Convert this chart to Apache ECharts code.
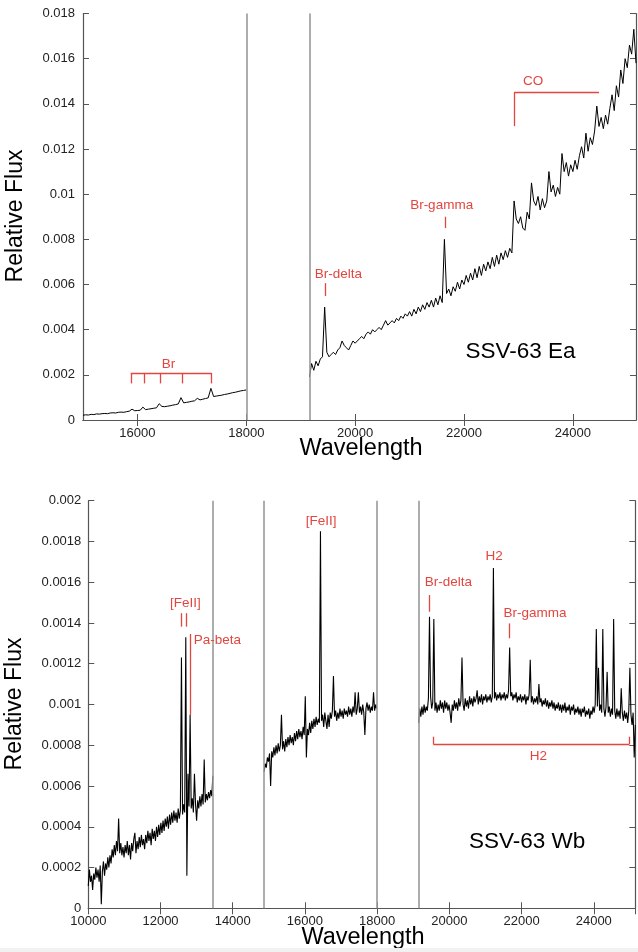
<!DOCTYPE html>
<html>
<head>
<meta charset="utf-8">
<script src="https://cdn.jsdelivr.net/npm/echarts@6/dist/echarts.min.js"></script>
<style>
  html, body { margin: 0; padding: 0; background: #fff; }
  #chart { width: 638px; height: 952px; }
</style>
</head>
<body>
<div id="chart"></div>
<script>
const FONT = '"Liberation Sans", Arial, Helvetica, sans-serif';
const RED = '#e3453f';

// --- top panel: SSV-63 Ea ---
const topXTicks = [16000, 18000, 20000, 22000, 24000];
// H band piece, 15000..18000 every 50 A
const eaStartA = 15000, eaStepA = 50;
const eaFluxA = [
  .00021, .00023, .00022, .00025, .00024, .00027, .00026, .00028, .00029, .00028,
  .00031, .00032, .00031, .00034, .00035, .00034, .00037, .00039, .00048, .00041,
  .00042, .00043, .00057, .00046, .00048, .00050, .00052, .00054, .00072, .00060,
  .00059, .00061, .00063, .00066, .00068, .00071, .00099, .00076, .00078, .00080,
  .00083, .00085, .00096, .00089, .00092, .00095, .00098, .00140, .00104, .00106,
  .00108, .00110, .00113, .00115, .00118, .00121, .00123, .00126, .00129, .00131,
  .00133
];
// K band piece, 19160..25160 every 40 A
const eaStartB = 19160, eaStepB = 40;
const eaFluxB = [
  .0019, .0025, .0022, .0026, .0024, .0027, .0028, .0050, .0030, .0028,
  .0029, .0030, .0029, .0031, .0032, .0035, .0033, .0032, .0031, .0033,
  .0035, .0034, .0035, .0036, .0037, .0036, .0038, .0039, .0038, .0040,
  .0039, .0040, .0041, .0040, .0042, .0044, .0042, .0043, .0044, .0043,
  .0045, .0044, .0046, .0045, .0047, .0046, .0048, .0046, .0049, .0047,
  .0050, .0048, .0051, .0049, .0052, .0050, .0053, .0050, .0054, .0051,
  .0055, .0052, .0080, .0056, .0058, .0055, .0059, .0057, .0061, .0058,
  .0062, .0060, .0064, .0061, .0065, .0062, .0067, .0063, .0068, .0064,
  .0069, .0066, .0070, .0067, .0072, .0068, .0073, .0069, .0074, .0071,
  .0075, .0072, .0076, .0074, .0097, .0089, .0087, .0090, .0085, .0084,
  .0092, .0089, .0105, .0097, .0095, .0099, .0093, .0098, .0094, .0097,
  .0110, .0101, .0104, .0099, .0103, .0100, .0118, .0110, .0114, .0108,
  .0113, .0110, .0115, .0111, .0117, .0121, .0116, .0127, .0119, .0125,
  .0122, .0128, .0139, .0130, .0134, .0129, .0135, .0131, .0138, .0144,
  .0137, .0148, .0143, .0155, .0149, .0160, .0156, .0166, .0162, .0173,
  .0158
];

// --- bottom panel: SSV-63 Wb ---
const wbStep = 30;
const wbStart1 = 10000;
const wbFlux1 = [
  .00011, .00019, .00013, .00016, .00009, .00017, .00014, .00020, .00015, .00019,
  .00013, .00021, .00002, .00018, .00023, .00016, .00022, .00019, .00025, .00020,
  .00026, .00022, .00029, .00025, .00031, .00026, .00033, .00028, .00044, .00027,
  .00032, .00026, .00030, .00025, .00031, .00027, .00033, .00026, .00031, .00024,
  .00032, .00028, .00034, .00037, .00027, .00033, .00029, .00035, .00030, .00036,
  .00031, .00034, .00029, .00036, .00032, .00038, .00033, .00037, .00031, .00039,
  .00034, .00038, .00033, .00040, .00035, .00041, .00036, .00042, .00037, .00043,
  .00038, .00044, .00040, .00045, .00039, .00046, .00041, .00047, .00042, .00048,
  .00043, .00047, .00042, .00049, .00044, .00048, .00123, .00046, .00051, .00047,
  .00133, .00016, .00066, .00050, .00095, .00049, .00054, .00047, .00066, .00051,
  .00043, .00053, .00049, .00055, .00050, .00056, .00051, .00073, .00052, .00056,
  .00053, .00057, .00054, .00058, .00055, .00065
];
const wbStart2 = 14870;
const wbFlux2 = [
  .00067, .00071, .00069, .00074, .00072, .00076, .00060, .00077, .00074, .00079,
  .00075, .00080, .00076, .00081, .00077, .00080, .00095, .00078, .00082, .00077,
  .00083, .00079, .00084, .00080, .00085, .00081, .00084, .00080, .00086, .00082,
  .00087, .00083, .00088, .00084, .00087, .00083, .00089, .00085, .00104, .00074,
  .00088, .00085, .00091, .00086, .00092, .00088, .00093, .00089, .00094, .00090,
  .00093, .00091, .00185, .00092, .00095, .00089, .00096, .00092, .00088, .00095,
  .00089, .00096, .00093, .00097, .00114, .00094, .00097, .00092, .00096, .00093,
  .00098, .00094, .00097, .00093, .00098, .00095, .00097, .00094, .00099, .00095,
  .00098, .00094, .00099, .00096, .00106, .00095, .00098, .00106, .00096, .00099,
  .00095, .00100, .00096, .00085, .00098, .00101, .00097, .00100, .00096, .00099,
  .00097, .00106, .00097, .00100, .00098
];
const wbStart3 = 19150;
const wbFlux3 = [
  .00091, .00098, .00094, .00099, .00095, .00100, .00096, .00099, .00097, .00103,
  .00143, .00104, .00098, .00101, .00142, .00097, .00101, .00096, .00100, .00097,
  .00102, .00098, .00101, .00096, .00102, .00098, .00101, .00097, .00100, .00096,
  .00091, .00100, .00097, .00102, .00098, .00101, .00097, .00103, .00099, .00102,
  .00123, .00100, .00097, .00103, .00099, .00102, .00098, .00104, .00100, .00103,
  .00099, .00104, .00101, .00103, .00107, .00100, .00104, .00101, .00105, .00100,
  .00104, .00102, .00105, .00101, .00104, .00102, .00105, .00101, .00104, .00167,
  .00103, .00106, .00102, .00105, .00103, .00106, .00102, .00105, .00103, .00106,
  .00102, .00105, .00103, .00107, .00128, .00104, .00106, .00102, .00105, .00103,
  .00106, .00101, .00104, .00102, .00105, .00101, .00104, .00102, .00105, .00100,
  .00104, .00102, .00105, .00122, .00101, .00104, .00100, .00103, .00101, .00104,
  .00100, .00110, .00101, .00103, .00099, .00102, .00100, .00103, .00099, .00102,
  .00098, .00101, .00099, .00102, .00098, .00101, .00097, .00100, .00098, .00101,
  .00097, .00100, .00096, .00100, .00097, .00101, .00096, .00099, .00097, .00100,
  .00095, .00099, .00097, .00100, .00095, .00098, .00096, .00099, .00095, .00098,
  .00094, .00098, .00096, .00099, .00094, .00097, .00095, .00098, .00093, .00097,
  .00095, .00099, .00096, .00100, .00137, .00099, .00118, .00097, .00100, .00096,
  .00137, .00098, .00094, .00099, .00116, .00096, .00099, .00094, .00098, .00095,
  .00142, .00097, .00093, .00098, .00094, .00097, .00093, .00108, .00096, .00092,
  .00097, .00093, .00096, .00091, .00097, .00118, .00095, .00090, .00096, .00074,
  .00090
];

function pairs(start, step, flux) {
  return flux.map((v, i) => [start + i * step, v]);
}

const chart = echarts.init(document.getElementById('chart'));

const axisLine = { show: true, lineStyle: { color: '#555', width: 1.2 } };
const tickIn = { show: true, inside: true, length: 6, lineStyle: { color: '#555', width: 1 } };
const lbl = { color: '#222', fontSize: 13, fontFamily: FONT };
const plainNum = v => String(v);

function redSeg(a, b) {
  return [{ coord: a, lineStyle: { color: RED, width: 1.3, type: 'solid' } }, { coord: b }];
}
function grayLine(x) {
  return { xAxis: x, lineStyle: { color: '#999', width: 1.6, type: 'solid' } };
}
function note(text, x, y, extra) {
  return { name: text, coord: [x, y], label: Object.assign({}, extra || {}) };
}

const spec = { type: 'line', showSymbol: false, symbol: 'none', silent: true,
  lineStyle: { color: '#000', width: 1 }, itemStyle: { color: '#000' } };
const specB = Object.assign({}, spec, { lineStyle: { color: '#000', width: 1.1 } });

const markPointBase = {
  symbol: 'circle', symbolSize: 0, silent: true,
  label: { show: true, position: 'inside', formatter: '{b}', color: RED, fontSize: 13.5, fontFamily: FONT }
};
const markLineBase = { symbol: ['none', 'none'], silent: true, label: { show: false } };

const option = {
  animation: false,
  backgroundColor: '#fff',
  grid: [
    { left: 83, top: 13.5, width: 553, height: 406.5 },
    { left: 88.3, top: 500.7, width: 547, height: 407.6 }
  ],
  xAxis: [
    { type: 'value', gridIndex: 0, min: 15000, max: 25160, axisLine, axisTick: Object.assign({ customValues: topXTicks }, tickIn),
      axisLabel: Object.assign({ customValues: topXTicks, margin: 7, formatter: plainNum }, lbl), splitLine: { show: false } },
    { type: 'value', gridIndex: 0, position: 'top', min: 15000, max: 25160, axisLine, axisTick: Object.assign({ customValues: topXTicks }, tickIn),
      axisLabel: { show: false, customValues: topXTicks }, splitLine: { show: false } },
    { type: 'value', gridIndex: 1, min: 10000, max: 25150, interval: 2000, axisLine, axisTick: tickIn,
      axisLabel: Object.assign({ margin: 7, showMaxLabel: false, formatter: plainNum }, lbl), splitLine: { show: false } },
    { type: 'value', gridIndex: 1, position: 'top', min: 10000, max: 25150, interval: 2000, axisLine, axisTick: tickIn,
      axisLabel: { show: false }, splitLine: { show: false } }
  ],
  yAxis: [
    { type: 'value', gridIndex: 0, min: 0, max: 0.018, interval: 0.002, axisLine, axisTick: tickIn,
      axisLabel: Object.assign({ margin: 8 }, lbl), splitLine: { show: false } },
    { type: 'value', gridIndex: 0, position: 'right', min: 0, max: 0.018, interval: 0.002, axisLine, axisTick: tickIn,
      axisLabel: { show: false }, splitLine: { show: false } },
    { type: 'value', gridIndex: 1, min: 0, max: 0.002, interval: 0.0002, axisLine, axisTick: tickIn,
      axisLabel: Object.assign({ margin: 7 }, lbl), splitLine: { show: false } },
    { type: 'value', gridIndex: 1, position: 'right', min: 0, max: 0.002, interval: 0.0002, axisLine, axisTick: tickIn,
      axisLabel: { show: false }, splitLine: { show: false } }
  ],
  series: [
    Object.assign({}, spec, {
      name: 'Ea H', xAxisIndex: 0, yAxisIndex: 0, data: pairs(eaStartA, eaStepA, eaFluxA),
      markLine: Object.assign({}, markLineBase, { data: [
        grayLine(18000), grayLine(19160),
        redSeg([15879, 0.00208], [17365, 0.00208]),
        redSeg([15879, 0.00208], [15879, 0.00162]),
        redSeg([16121, 0.00208], [16121, 0.00162]),
        redSeg([16411, 0.00208], [16411, 0.00162]),
        redSeg([16815, 0.00208], [16815, 0.00162]),
        redSeg([17365, 0.00208], [17365, 0.00162]),
        redSeg([19455, 0.00606], [19455, 0.00549]),
        redSeg([21657, 0.0090], [21657, 0.0085]),
        redSeg([22921, 0.01451], [22921, 0.01301]),
        redSeg([22921, 0.01451], [24481, 0.01451])
      ] }),
      markPoint: Object.assign({}, markPointBase, { data: [
        note('Br', 16569, 0.00248),
        note('Br-delta', 19694, 0.00646),
        note('Br-gamma', 21589, 0.00951),
        note('CO', 23272, 0.0150),
        note('SSV-63 Ea', 23038, 0.00302, { color: '#000', fontSize: 22.5 })
      ] })
    }),
    Object.assign({}, spec, { name: 'Ea K', xAxisIndex: 0, yAxisIndex: 0, data: pairs(eaStartB, eaStepB, eaFluxB) }),
    Object.assign({}, specB, {
      name: 'Wb J', xAxisIndex: 2, yAxisIndex: 2, data: pairs(wbStart1, wbStep, wbFlux1),
      markLine: Object.assign({}, markLineBase, { data: [
        grayLine(13460), grayLine(14870), grayLine(17990), grayLine(19150),
        redSeg([12580, 0.001448], [12580, 0.001382]),
        redSeg([12700, 0.001448], [12700, 0.001382]),
        redSeg([12820, 0.001346], [12820, 0.000949]),
        redSeg([19450, 0.001537], [19450, 0.001455]),
        redSeg([21670, 0.001398], [21670, 0.001325]),
        redSeg([19557, 0.000805], [24986, 0.000805]),
        redSeg([19557, 0.000805], [19557, 0.000842]),
        redSeg([24986, 0.000805], [24986, 0.000842])
      ] }),
      markPoint: Object.assign({}, markPointBase, { data: [
        note('[FeII]', 12687, 0.001497),
        note('Pa-beta', 13575, 0.001317),
        note('[FeII]', 16446, 0.001897),
        note('Br-delta', 19972, 0.001598),
        note('H2', 21238, 0.001725),
        note('Br-gamma', 22374, 0.001447),
        note('H2', 22465, 0.000744),
        note('SSV-63 Wb', 22155, 0.000327, { color: '#000', fontSize: 22.5 })
      ] })
    }),
    Object.assign({}, specB, { name: 'Wb H', xAxisIndex: 2, yAxisIndex: 2, data: pairs(wbStart2, wbStep, wbFlux2) }),
    Object.assign({}, specB, { name: 'Wb K', xAxisIndex: 2, yAxisIndex: 2, data: pairs(wbStart3, wbStep, wbFlux3) })
  ],
  graphic: [
    { type: 'text', x: 16, y: 216, rotation: Math.PI / 2, silent: true,
      style: { text: 'Relative Flux', font: '23px ' + FONT, fill: '#000', textAlign: 'center', textVerticalAlign: 'middle' } },
    { type: 'text', x: 15, y: 704, rotation: Math.PI / 2, silent: true,
      style: { text: 'Relative Flux', font: '23px ' + FONT, fill: '#000', textAlign: 'center', textVerticalAlign: 'middle' } },
    { type: 'text', x: 361, y: 461, silent: true,
      style: { text: 'Wavelength', font: '23.5px ' + FONT, fill: '#000', textAlign: 'center', textVerticalAlign: 'bottom' } },
    { type: 'rect', shape: { x: 290, y: 461.5, width: 150, height: 14 }, silent: true, z: 100,
      style: { fill: '#fff' } },
    { type: 'text', x: 363, y: 950, silent: true,
      style: { text: 'Wavelength', font: '23.5px ' + FONT, fill: '#000', textAlign: 'center', textVerticalAlign: 'bottom' } },
    { type: 'rect', shape: { x: 0, y: 948, width: 638, height: 4 }, silent: true, z: 100,
      style: { fill: '#f1f1f1' } }
  ]
};

chart.setOption(option);
</script>
</body>
</html>
